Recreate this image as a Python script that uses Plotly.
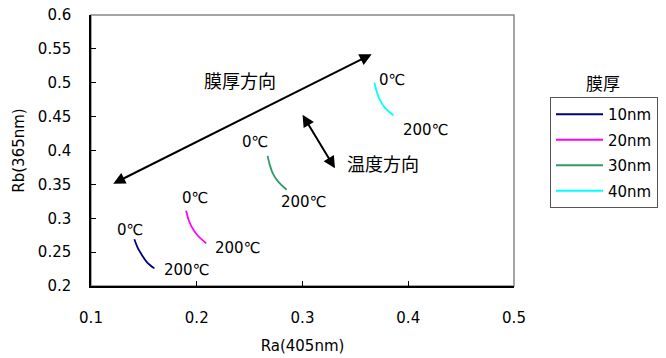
import plotly.graph_objects as go

# ---- data ----
series_names = ["10nm", "20nm", "30nm", "40nm"]
series_colors = ["#000080", "#FF00FF", "#339966", "#00FFFF"]
ra_10 = [0.141, 0.144, 0.148, 0.153, 0.160]
rb_10 = [0.269, 0.257, 0.246, 0.235, 0.226]
ra_20 = [0.190, 0.192, 0.195, 0.200, 0.209]
rb_20 = [0.311, 0.299, 0.288, 0.276, 0.263]
ra_30 = [0.267, 0.269, 0.272, 0.277, 0.285]
rb_30 = [0.392, 0.379, 0.366, 0.354, 0.342]
ra_40 = [0.368, 0.370, 0.373, 0.378, 0.386]
rb_40 = [0.500, 0.488, 0.475, 0.463, 0.452]
ra_all = [ra_10, ra_20, ra_30, ra_40]
rb_all = [rb_10, rb_20, rb_30, rb_40]

# temperature labels (0℃ / 200℃) positions
lab0_x = [0.137, 0.198, 0.255, 0.385]
lab0_y = [0.283, 0.330, 0.413, 0.504]
lab200_x = [0.190, 0.239, 0.301, 0.416]
lab200_y = [0.223, 0.256, 0.324, 0.431]

x_ticks = [0.1, 0.2, 0.3, 0.4, 0.5]
y_ticks = [0.2, 0.25, 0.3, 0.35, 0.4, 0.45, 0.5, 0.55, 0.6]

FONT = "DejaVu Sans, Noto Sans CJK JP"
CJK = "Noto Sans CJK JP"

# plot-area pixel geometry
L, R, T, B = 91, 152, 15, 72
W, H = 666, 358
PW, PH = W - L - R, H - T - B


def px_to_paper(px, py):
    return (px - L) / PW, 1 - (py - T) / PH


fig = go.Figure()
for i, name in enumerate(series_names):
    fig.add_trace(go.Scatter(
        x=ra_all[i], y=rb_all[i], mode="lines", name=name,
        line=dict(color=series_colors[i], width=1.8, shape="spline"),
        legendgroup=name,
    ))

ann = []
for i in range(4):
    ann.append(dict(x=lab0_x[i], y=lab0_y[i], text="0℃", showarrow=False,
                    xref="x", yref="y", font=dict(size=15, color="black", family=FONT)))
    ann.append(dict(x=lab200_x[i], y=lab200_y[i], text="200℃", showarrow=False,
                    xref="x", yref="y", font=dict(size=15, color="black", family=FONT)))

# direction arrows
ann.append(dict(x=0.3654, y=0.542, ax=0.1196, ay=0.350, xref="x", yref="y",
                axref="x", ayref="y", text="", showarrow=True, arrowhead=2,
                arrowside="end+start", arrowsize=1.2, arrowwidth=2, arrowcolor="black"))
ann.append(dict(x=0.3307, y=0.3737, ax=0.2992, ay=0.455, xref="x", yref="y",
                axref="x", ayref="y", text="", showarrow=True, arrowhead=2,
                arrowside="end+start", arrowsize=1.2, arrowwidth=2, arrowcolor="black"))
ann.append(dict(x=0.241, y=0.504, text="膜厚方向", showarrow=False, xref="x", yref="y",
                font=dict(size=18, color="black", family=CJK)))
ann.append(dict(x=0.376, y=0.381, text="温度方向", showarrow=False, xref="x", yref="y",
                font=dict(size=18, color="black", family=CJK)))
# legend title above box
tx, ty = px_to_paper(603, 82)
ann.append(dict(x=tx, y=ty, text="膜厚", showarrow=False, xref="paper", yref="paper",
                xanchor="center", yanchor="middle",
                font=dict(size=17, color="black", family=CJK)))

lx, ly = px_to_paper(550, 97)

fig.update_layout(
    width=W, height=H,
    margin=dict(l=L, r=R, t=T, b=B, autoexpand=False),
    plot_bgcolor="white", paper_bgcolor="white",
    font=dict(family=FONT, size=15, color="black"),
    showlegend=True,
    legend=dict(x=lx, y=ly, xref="paper", yref="paper", xanchor="left", yanchor="top",
                font=dict(size=15, family=FONT),
                bordercolor="#555555", borderwidth=1, tracegroupgap=3,
                itemwidth=47),
    xaxis=dict(range=[0.1, 0.5], tickvals=x_ticks, ticktext=[f"{v:g}" for v in x_ticks],
               showgrid=False, zeroline=False, showline=True, linecolor="black",
               linewidth=1.5, ticks="inside", ticklen=5, tickcolor="black",
               ticklabelstandoff=17, automargin=False,
               title=dict(text="Ra(405nm)", font=dict(size=15), standoff=15)),
    yaxis=dict(range=[0.2, 0.6], tickvals=y_ticks, ticktext=[f"{v:g}" for v in y_ticks],
               showgrid=False, zeroline=False, showline=True, linecolor="black",
               linewidth=1.5, ticks="inside", ticklen=5, tickcolor="black",
               ticklabelstandoff=15, automargin=False,
               title=dict(text="Rb(365nm)", font=dict(size=15), standoff=10)),
    shapes=[dict(type="rect", xref="paper", yref="paper", x0=0, x1=1, y0=0, y1=1,
                 line=dict(color="#888888", width=1.5), layer="below")],
    annotations=ann,
)

fig.write_html("out.html")
